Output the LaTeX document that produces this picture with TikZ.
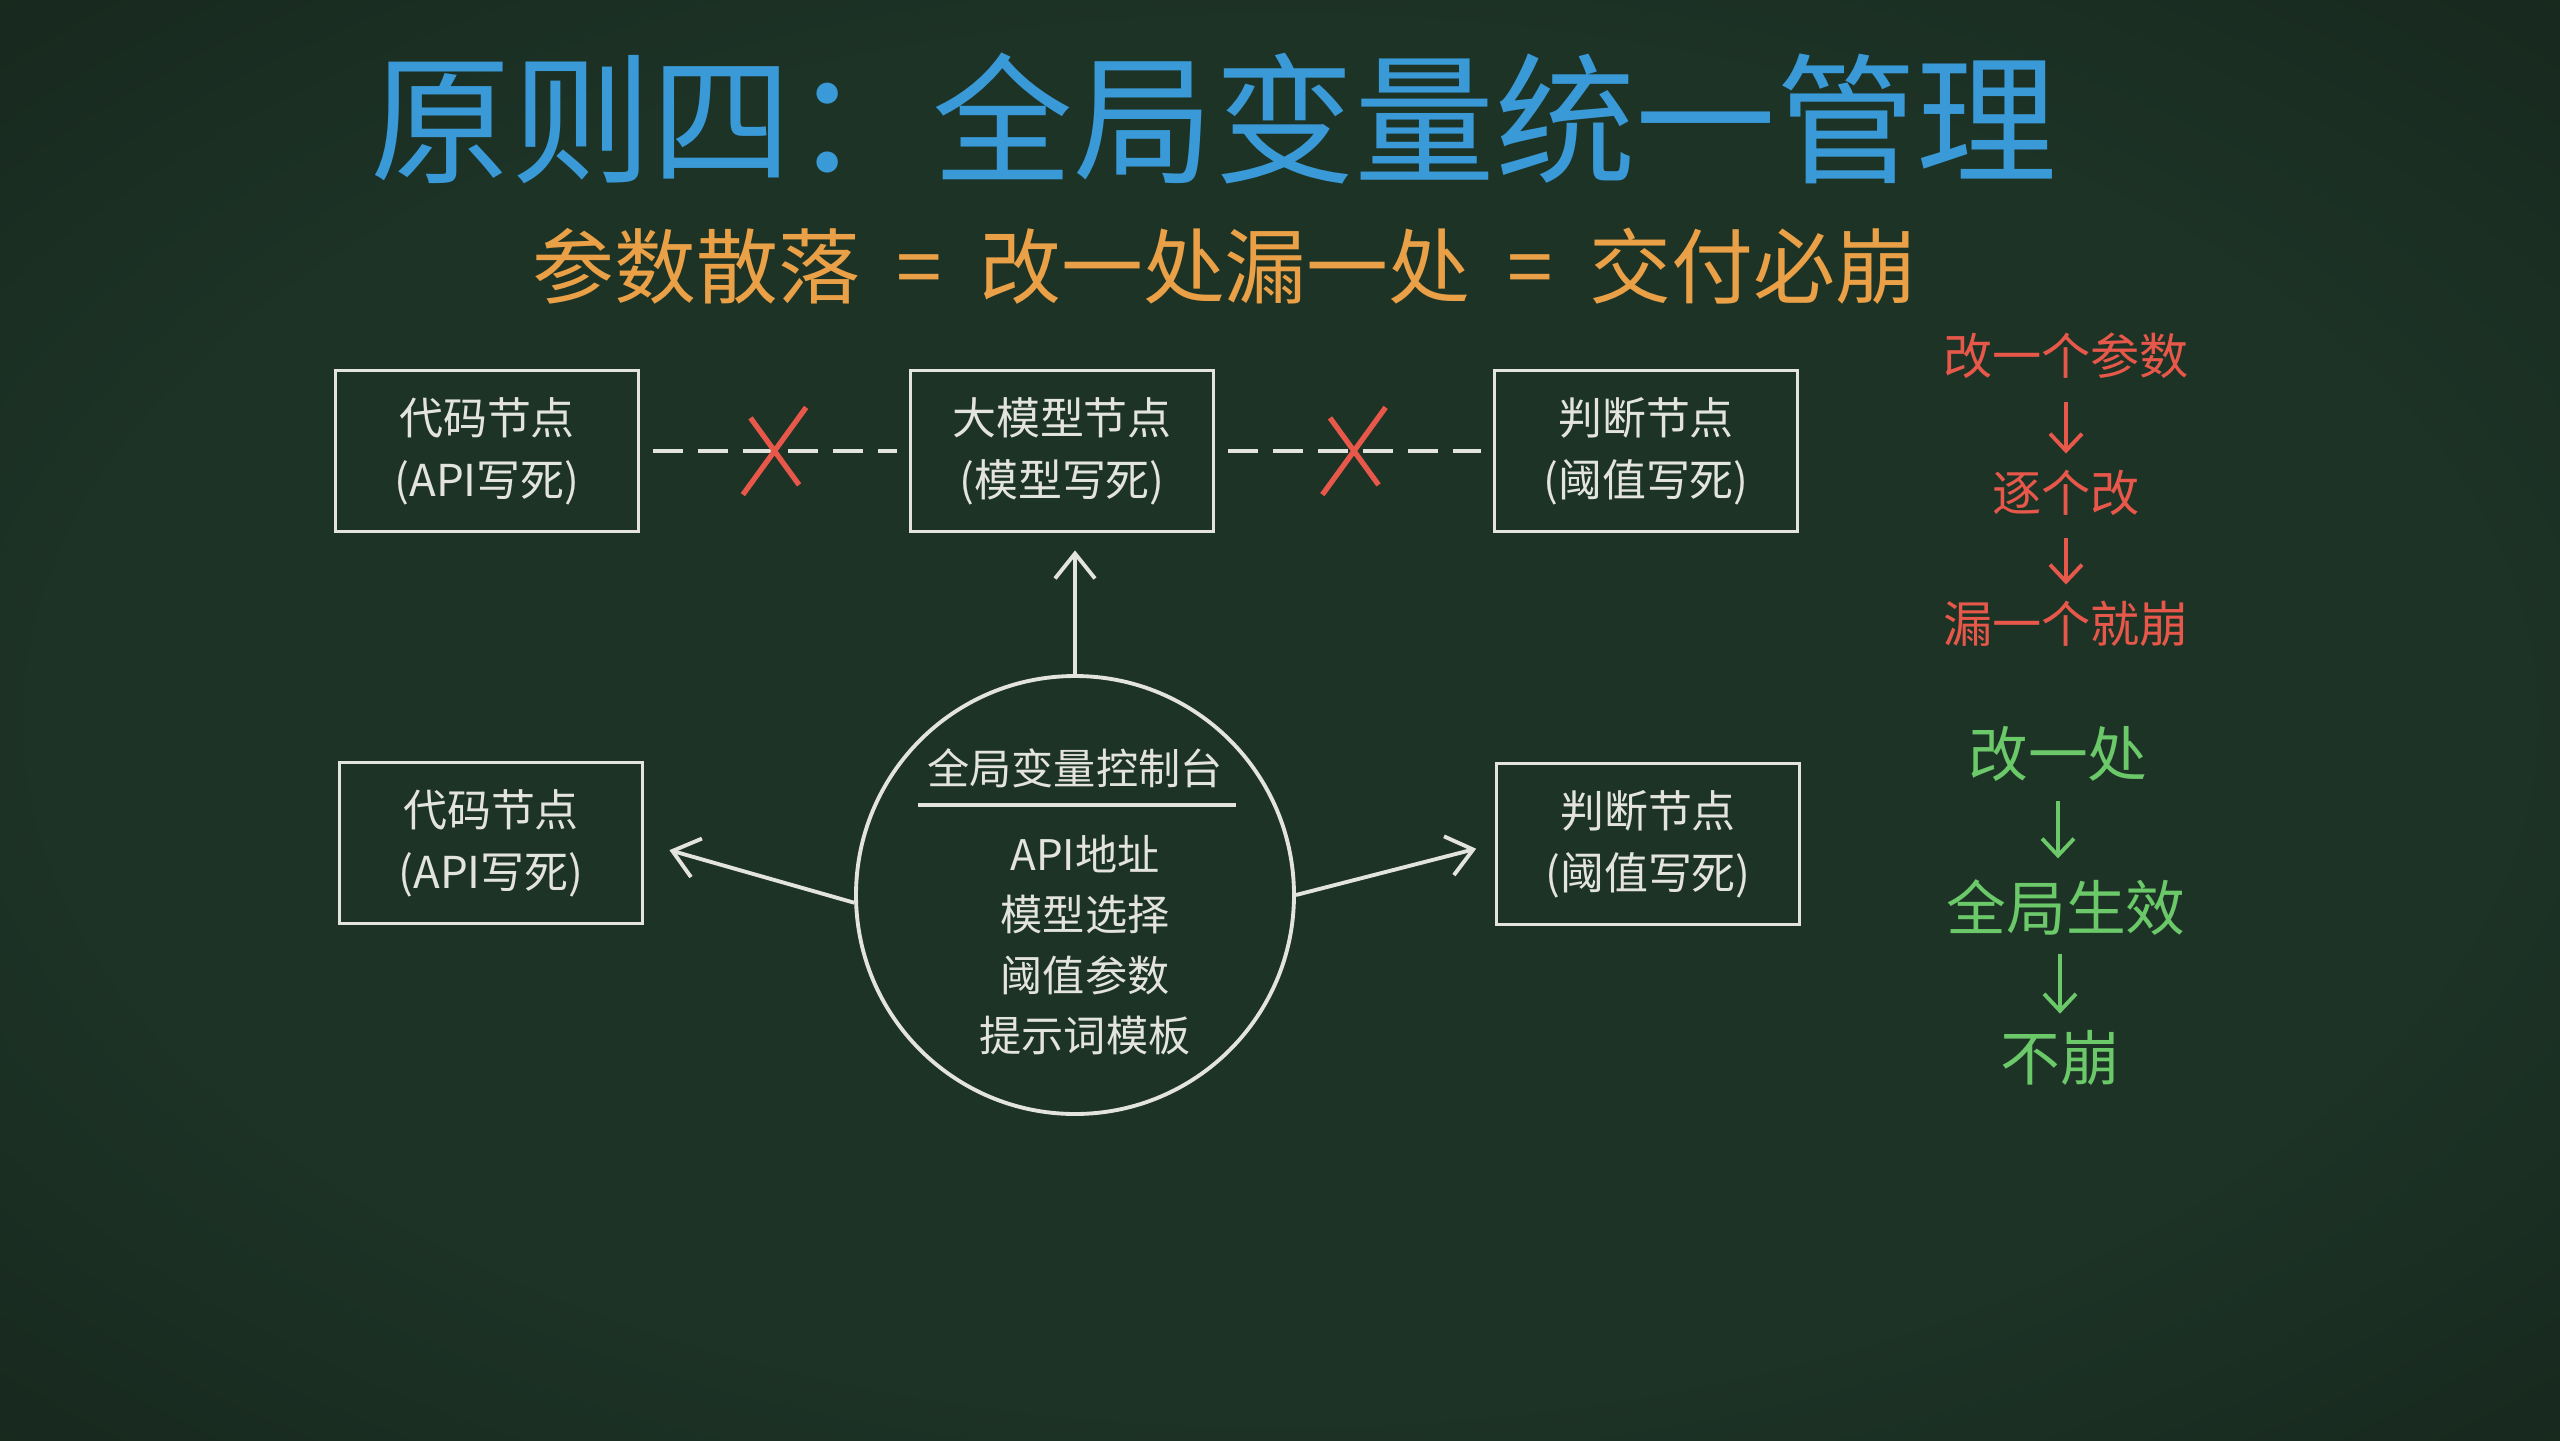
\documentclass[tikz,border=0pt]{standalone}
\usepackage{fontspec}
\setmainfont{Noto Sans CJK SC}
\usetikzlibrary{arrows.meta,positioning,shapes.misc}
\definecolor{board}{HTML}{1D3326}
\definecolor{boardedge}{HTML}{101A13}
\definecolor{chalk}{HTML}{E4E4DE}
\definecolor{chalkblue}{HTML}{3A9AD8}
\definecolor{chalkorange}{HTML}{E9A046}
\definecolor{chalkred}{HTML}{E8584A}
\definecolor{chalkgreen}{HTML}{6CC96A}
\pgfdeclareradialshading{vignette}{\pgfpoint{0bp}{0bp}}{color(0bp)=(board); color(24bp)=(board); color(52bp)=(boardedge)}
\tikzset{
 nodeBox/.style = {
  rectangle,
  draw=chalk,
  line width=1.1pt,
  minimum width=3.03cm,
  minimum height=1.61cm,
  align=center,
  text=chalk,
  font=\fontsize{12.5}{17.6}\selectfont
 },
 chalkText/.style = {
  inner sep=0pt,
  align=center,
  text=chalk,
  font=\fontsize{12}{17.1}\selectfont
 },
 redNote/.style = {inner sep=0pt, text=chalkred, font=\fontsize{14}{16}\selectfont},
 greenNote/.style = {inner sep=0pt, text=chalkgreen, font=\fontsize{17}{20}\selectfont},
 chalkArrow/.style = {draw=chalk, line width=1.1pt, -{Straight Barb[length=0.25cm,width=0.4cm]}},
 noteArrow/.style = {line width=1.1pt, -{Straight Barb[length=0.17cm,width=0.32cm]}},
 broken/.style = {draw=chalk, line width=1.1pt, dash pattern=on 0.3cm off 0.15cm, shorten <=0.13cm, shorten >=0.12cm},
 redCross/.style = {cross out, solid, draw=chalkred, line width=1.5pt, inner sep=0pt, minimum width=0.58cm, minimum height=0.82cm}
}
\begin{document}
\begin{tikzpicture}
  \useasboundingbox (0,0) rectangle (25.6,-14.4);
  \shade[shading=vignette] (0,0) rectangle (25.6,-14.4);

  % headings
  \node [inner sep=0pt, text=chalkblue, font=\fontsize{40}{48}\selectfont] (title) at (12.14,-1.18) {原则四：全局变量统一管理};
  \node [inner sep=0pt, text=chalkorange, font=\fontsize{23.3}{28}\selectfont] (motto) at (12.25,-2.66)
    {参数散落\hspace{0.45em}=\hspace{0.45em}改一处漏一处\hspace{0.45em}=\hspace{0.45em}交付必崩};

  % hard-coded nodes
  \node [nodeBox] (codeTop) at (4.87,-4.51) {代码节点\\(API写死)};
  \node [nodeBox] (llmTop) at (10.62,-4.51) {大模型节点\\(模型写死)};
  \node [nodeBox] (judgeTop) at (16.46,-4.51) {判断节点\\(阈值写死)};
  \draw [broken] (codeTop) -- (llmTop) node [midway, redCross] (crossA) {};
  \draw [broken] (llmTop) -- (judgeTop) node [midway, redCross] (crossB) {};

  % global console
  \node [circle, draw=chalk, line width=1.1pt, minimum size=4.38cm, inner sep=0pt] (console) at (10.75,-8.95) {};
  \node [chalkText] (consoleHead) at (10.75,-7.68) {全局变量控制台};
  \coordinate (ruleL) at (9.18,-8.05);
  \coordinate (ruleR) at (12.36,-8.05);
  \draw [chalk, line width=1.1pt] (ruleL) -- (ruleR);
  \node [chalkText] (consoleList) at (10.85,-9.45) {API地址\\模型选择\\阈值参数\\提示词模板};

  \node [nodeBox] (codeLow) at (4.91,-8.43) {代码节点\\(API写死)};
  \node [nodeBox] (judgeLow) at (16.48,-8.44) {判断节点\\(阈值写死)};

  \draw [chalkArrow, shorten >=0.17cm] (console.north) -- (console.north |- llmTop.south);
  \draw [chalkArrow, shorten >=0.26cm] (console.182) -- (codeLow.east);
  \draw [chalkArrow, shorten >=0.19cm] (console.0) -- (judgeLow.west);

  % side notes
  \node [redNote] (riskA) at (20.66,-3.56) {改一个参数};
  \node [redNote] (riskB) at (20.66,-4.93) {逐个改};
  \node [redNote] (riskC) at (20.66,-6.24) {漏一个就崩};
  \draw [noteArrow, chalkred, shorten <=0.22cm, shorten >=0.16cm] (riskA) -- (riskB);
  \draw [noteArrow, chalkred, shorten <=0.22cm, shorten >=0.16cm] (riskB) -- (riskC);

  \node [greenNote] (fixA) at (20.58,-7.54) {改一处};
  \node [greenNote] (fixB) at (20.66,-9.08) {全局生效};
  \node [greenNote] (fixC) at (20.60,-10.58) {不崩};
  \draw [noteArrow, chalkgreen, shorten <=0.19cm, shorten >=0.21cm] (fixA.south) -- (fixA.south |- fixB.north);
  \draw [noteArrow, chalkgreen, shorten <=0.17cm, shorten >=0.16cm] (fixC.north |- fixB.south) -- (fixC.north);
\end{tikzpicture}
\end{document}
